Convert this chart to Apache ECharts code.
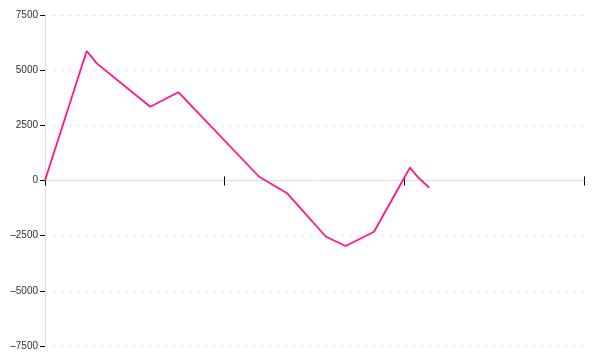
<!DOCTYPE html>
<html><head><meta charset="utf-8">
<script src="https://cdn.jsdelivr.net/npm/echarts@6/dist/echarts.min.js"></script>
<style>html,body{margin:0;padding:0;background:#fff}#c{width:600px;height:360px}</style>
</head><body><div id="c"></div>
<script>
const xValues = [0, 0.232, 0.288, 0.586, 0.742, 1.192, 1.348, 1.564, 1.674, 1.831, 2.031, 2.078, 2.139];
const yValues = [0, 5870, 5310, 3340, 4000, 170, -580, -2550, -2970, -2320, 580, 130, -330];
const yTicks = [-7500, -5000, -2500, 0, 2500, 5000, 7500];
const xTicks = [0, 1, 2, 3];

const chart = echarts.init(document.getElementById('c'), null, {renderer: 'canvas'});
const lab = v => String(v).replace('-', '\u2013');
chart.setOption({
  animation: false,
  grid: {left: 45, right: 16, top: 15, bottom: 14},
  xAxis: [{
    type: 'value', min: xTicks[0], max: xTicks[xTicks.length - 1], interval: 1,
    axisLine: {onZero: true, onZeroAxisIndex: 0, lineStyle: {color: '#dddddd', width: 1}},
    axisTick: {show: true, length: 5, lineStyle: {color: '#000'}},
    axisLabel: {show: false}, splitLine: {show: false}
  }, {
    type: 'value', position: 'bottom', min: xTicks[0], max: xTicks[xTicks.length - 1], interval: 1,
    axisLine: {show: false, onZero: true, onZeroAxisIndex: 0},
    axisTick: {show: true, inside: true, length: 4, lineStyle: {color: '#000'}},
    axisLabel: {show: false}, splitLine: {show: false}
  }],
  yAxis: {
    type: 'value', min: yTicks[0], max: yTicks[yTicks.length - 1], interval: 2500,
    axisLine: {show: true, lineStyle: {color: '#dddddd'}},
    axisTick: {show: true, length: 5, lineStyle: {color: '#000'}},
    axisLabel: {color: '#333', fontFamily: 'Liberation Sans', fontSize: 10, margin: 7, formatter: lab},
    splitLine: {show: true, lineStyle: {color: '#e6e6e6', type: [3, 5]}}
  },
  series: [{
    type: 'line', xAxisIndex: 0, showSymbol: false, symbol: 'none',
    data: xValues.map((x, i) => [x, yValues[i]]),
    lineStyle: {color: '#ff1493', width: 1.8}
  }]
});
</script></body></html>
